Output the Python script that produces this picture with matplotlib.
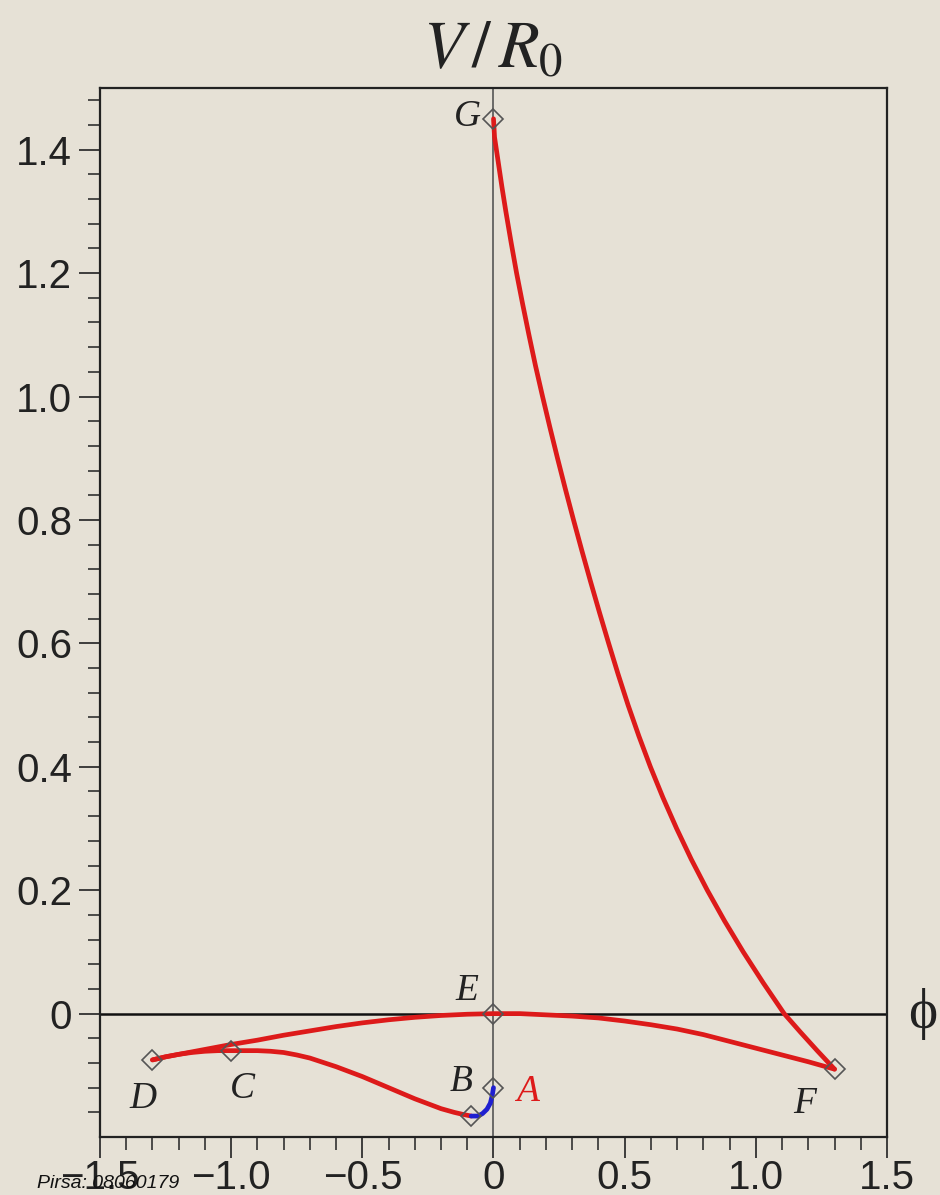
"""Maple-style potential plot V/R0 vs phi, with labelled turning points A-G."""
import matplotlib.pyplot as plt
import numpy as np

plt.rcParams["mathtext.fontset"] = "stix"

# ---------------------------------------------------------------------------
# Data
# ---------------------------------------------------------------------------
# G -> F branch
GF_Y = [1.45, 1.42, 1.38, 1.34, 1.30, 1.25, 1.20, 1.15, 1.10, 1.05, 1.00,
        0.95, 0.90, 0.85, 0.80, 0.75, 0.70, 0.65, 0.60, 0.55, 0.50, 0.45,
        0.40, 0.35, 0.30, 0.25, 0.20, 0.15, 0.10, 0.05, 0.00, -0.03, -0.06, -0.09]
GF_X = [0.0, 0.004, 0.018, 0.032, 0.047, 0.067, 0.088, 0.111, 0.135, 0.160, 0.187,
        0.215, 0.244, 0.274, 0.305, 0.337, 0.370, 0.404, 0.439, 0.475, 0.513, 0.554,
        0.598, 0.646, 0.698, 0.754, 0.815, 0.881, 0.952, 1.028, 1.108, 1.170, 1.234, 1.300]

# D -> E -> F branch
DEF_X = [-1.30, -1.25, -1.20, -1.15, -1.10, -1.05, -1.00, -0.90, -0.80, -0.70,
         -0.60, -0.50, -0.40, -0.30, -0.20, -0.10, 0.0, 0.10, 0.20, 0.30,
         0.40, 0.50, 0.60, 0.70, 0.80, 0.90, 1.00, 1.10, 1.20, 1.30]
DEF_Y = [-0.075, -0.070, -0.066, -0.062, -0.058, -0.054, -0.050, -0.043, -0.035, -0.028,
         -0.021, -0.015, -0.010, -0.006, -0.003, -0.001, 0.0, 0.0, -0.002, -0.004,
         -0.007, -0.012, -0.018, -0.025, -0.034, -0.045, -0.056, -0.067, -0.078, -0.090]

# D -> C -> minimum branch
DC_X = [-1.30, -1.25, -1.20, -1.15, -1.10, -1.05, -1.00, -0.95, -0.90, -0.85,
        -0.80, -0.75, -0.70, -0.65, -0.60, -0.55, -0.50, -0.45, -0.40, -0.35,
        -0.30, -0.25, -0.20, -0.15, -0.12, -0.085]
DC_Y = [-0.075, -0.070, -0.066, -0.063, -0.061, -0.060, -0.060, -0.060, -0.060, -0.061,
        -0.063, -0.067, -0.072, -0.079, -0.086, -0.094, -0.102, -0.111, -0.120, -0.129,
        -0.138, -0.146, -0.154, -0.160, -0.163, -0.166]

# blue piece, minimum -> B
AB_X = [-0.085, -0.060, -0.042, -0.025, -0.012, -0.005, 0.0]
AB_Y = [-0.166, -0.166, -0.162, -0.155, -0.145, -0.133, -0.120]

# diamond markers
PT_X = [0.0, 0.0, 0.0, -1.30, -1.00, 1.30, -0.085]
PT_Y = [1.45, 0.0, -0.12, -0.075, -0.060, -0.090, -0.166]

# point labels
LAB_TXT = ["G", "E", "B", "A", "D", "C", "F"]
LAB_X = [-0.10, -0.103, -0.122, 0.130, -1.336, -0.958, 1.187]
LAB_Y = [1.454, 0.037, -0.110, -0.126, -0.138, -0.122, -0.146]
LAB_COL = ["#222222", "#222222", "#222222", "#dd1a1a", "#222222", "#222222", "#222222"]

RED = "#dd1a1a"
BLUE = "#1f1fd0"
BG = "#e6e1d6"

# ---------------------------------------------------------------------------
fig = plt.figure(figsize=(9.4, 11.95), dpi=100, facecolor=BG)
ax = fig.add_axes([0.1064, 0.0485, 0.8372, 0.8779])
ax.set_facecolor(BG)

ax.axhline(0, color="#111111", lw=1.8, zorder=1)
ax.axvline(0, color="#555555", lw=1.2, zorder=1)

for xs, ys in [(GF_X, GF_Y), (DEF_X, DEF_Y), (DC_X, DC_Y)]:
    ax.plot(xs, ys, color=RED, lw=3.4, solid_capstyle="round",
            solid_joinstyle="round", zorder=3)
ax.plot(AB_X, AB_Y, color=BLUE, lw=3.4, solid_capstyle="round", zorder=4)
ax.plot(PT_X, PT_Y, ls="none", marker="D", ms=10, mfc="none", mec="#555555",
        mew=1.2, zorder=5)

for t, x, y, c in zip(LAB_TXT, LAB_X, LAB_Y, LAB_COL):
    ax.text(x, y, t, color=c, fontsize=27, style="italic",
            family="Liberation Serif", ha="center", va="center", zorder=6)

ax.text(1.635, 0.0, "ϕ", fontsize=40, family=["Liberation Serif", "DejaVu Serif"],
        ha="center", va="center", clip_on=False, color="#222222")

ax.set_xlim(-1.5, 1.5)
ax.set_ylim(-0.2, 1.5)
ax.set_xticks([-1.5, -1.0, -0.5, 0, 0.5, 1.0, 1.5])
ax.set_xticklabels(["−1.5", "−1.0", "−0.5", "0", "0.5", "1.0", "1.5"])
ax.set_xticks(np.arange(-1.5, 1.51, 0.1), minor=True)
ax.set_yticks([0, 0.2, 0.4, 0.6, 0.8, 1.0, 1.2, 1.4])
ax.set_yticklabels(["0", "0.2", "0.4", "0.6", "0.8", "1.0", "1.2", "1.4"])
ax.set_yticks(np.arange(-0.16, 1.49, 0.04), minor=True)

ax.tick_params(which="major", direction="out", length=15, width=1.2,
               labelsize=29, colors="#222222")
ax.tick_params(axis="x", which="major", pad=1)
ax.tick_params(axis="y", which="major", pad=5)
ax.tick_params(which="minor", direction="out", length=9, width=1.1, colors="#222222")
for lab in ax.get_xticklabels() + ax.get_yticklabels():
    lab.set_family("Liberation Sans")
for s in ax.spines.values():
    s.set_linewidth(1.6)
    s.set_color("#222222")

ax.set_title(r"$V\,/\,R_0$", fontsize=48, pad=15, color="#222222")

fig.text(0.039, 0.006, "Pirsa: 08060179", fontsize=14, style="italic",
         family="Liberation Sans", color="#111111")

fig.savefig("out.png", dpi=100, facecolor=BG)
